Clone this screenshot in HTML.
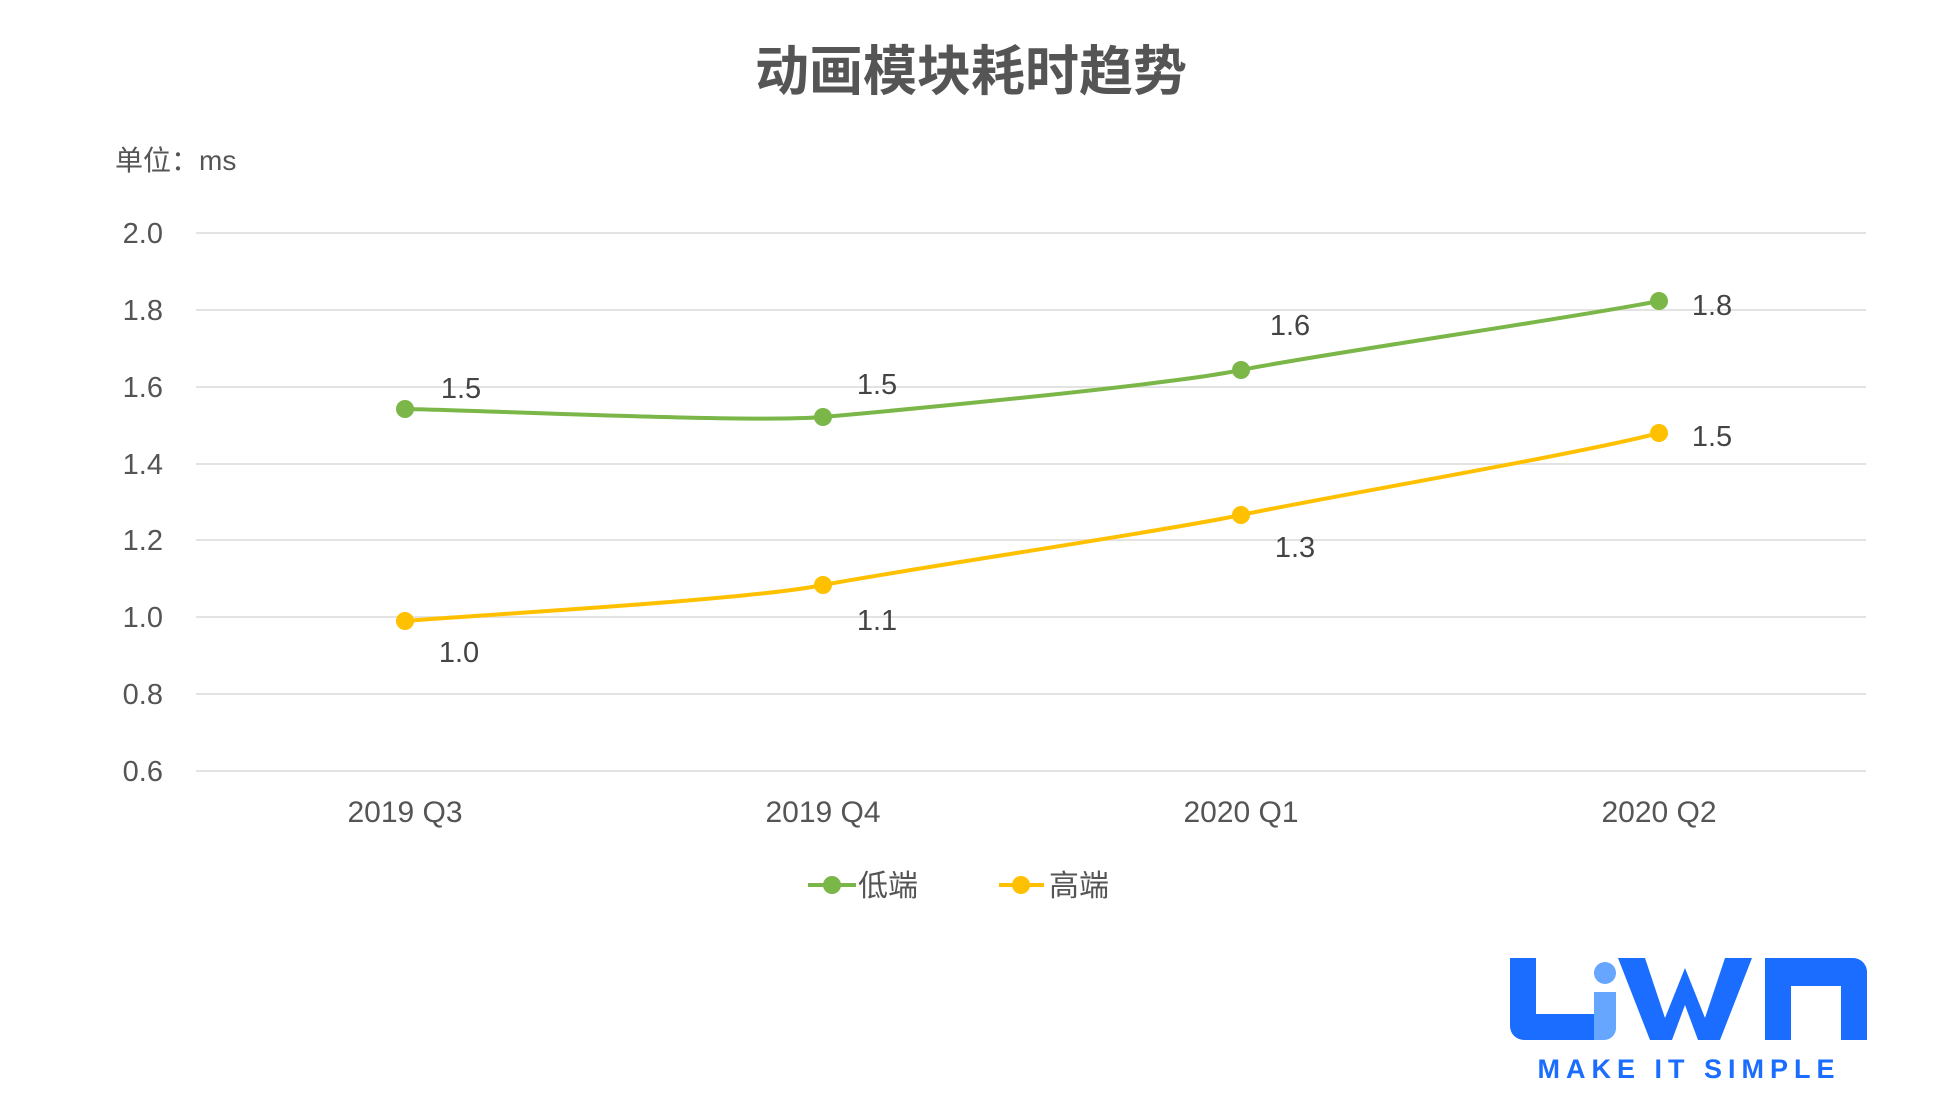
<!DOCTYPE html>
<html><head><meta charset="utf-8"><style>
body{margin:0;background:#fff;width:1944px;height:1098px;overflow:hidden}
text{font-family:"Liberation Sans","Noto Sans CJK SC",sans-serif}
</style></head><body>
<svg width="1944" height="1098" xmlns="http://www.w3.org/2000/svg">
<text x="971" y="90" text-anchor="middle" font-size="54" font-weight="bold" fill="#555" style="font-family:'Noto Sans CJK SC',sans-serif">动画模块耗时趋势</text>
<text x="115" y="170" font-size="28" fill="#555" style="font-family:'Liberation Sans','Noto Sans CJK SC',sans-serif">单位：ms</text>
<g stroke="#e3e3e3" stroke-width="2">
<line x1="196" x2="1866" y1="233" y2="233"/><line x1="196" x2="1866" y1="310" y2="310"/>
<line x1="196" x2="1866" y1="387" y2="387"/><line x1="196" x2="1866" y1="464" y2="464"/>
<line x1="196" x2="1866" y1="540" y2="540"/><line x1="196" x2="1866" y1="617" y2="617"/>
<line x1="196" x2="1866" y1="694" y2="694"/><line x1="196" x2="1866" y1="771" y2="771"/>
</g>
<g font-size="29" fill="#555" text-anchor="end">
<text x="163" y="243">2.0</text><text x="163" y="320">1.8</text><text x="163" y="397">1.6</text>
<text x="163" y="474">1.4</text><text x="163" y="550">1.2</text><text x="163" y="627">1.0</text>
<text x="163" y="704">0.8</text><text x="163" y="781">0.6</text>
</g>
<g font-size="30" fill="#555" text-anchor="middle">
<text x="405" y="822">2019 Q3</text><text x="823" y="822">2019 Q4</text>
<text x="1241" y="822">2020 Q1</text><text x="1659" y="822">2020 Q2</text>
</g>
<path d="M405,409 C475,410 750,423 823,417 C890,411 1170,385 1241,370 C1315,355 1585,316 1659,301" fill="none" stroke="#7ab648" stroke-width="4"/>
<path d="M405,621 C475,615 750,600 823,585 C890,572 1170,530 1241,515 C1315,499 1585,453 1659,433" fill="none" stroke="#ffc000" stroke-width="4"/>
<g fill="#7ab648"><circle cx="405" cy="409" r="9"/><circle cx="823" cy="417" r="9"/><circle cx="1241" cy="370" r="9"/><circle cx="1659" cy="301" r="9"/></g>
<g fill="#ffc000"><circle cx="405" cy="621" r="9"/><circle cx="823" cy="585" r="9"/><circle cx="1241" cy="515" r="9"/><circle cx="1659" cy="433" r="9"/></g>
<g font-size="29" fill="#444" text-anchor="middle">
<text x="461" y="398">1.5</text><text x="877" y="394">1.5</text><text x="1290" y="335">1.6</text><text x="1712" y="315">1.8</text>
<text x="459" y="662">1.0</text><text x="877" y="630">1.1</text><text x="1295" y="557">1.3</text><text x="1712" y="446">1.5</text>
</g>
<line x1="808" x2="856" y1="885" y2="885" stroke="#7ab648" stroke-width="4"/><circle cx="832" cy="885" r="9" fill="#7ab648"/>
<text x="858" y="896" font-size="30" fill="#555">低端</text>
<line x1="999" x2="1044" y1="885" y2="885" stroke="#ffc000" stroke-width="4"/><circle cx="1021" cy="885" r="9" fill="#ffc000"/>
<text x="1049" y="896" font-size="30" fill="#555">高端</text>
<g fill="#1a6dff">
<path d="M1510,958 h26 v56 h58 v26 h-70 a14,14 0 0 1 -14,-14 z"/>
<path d="M1618,958 h27 l20,60 l20,-50 l20,50 l20,-60 h27 l-32,82 h-22 l-13,-35 l-13,35 h-22 z"/>
<path d="M1765,958 h88 a14,14 0 0 1 14,14 v68 h-26 v-54 h-50 v54 h-26 z"/>
</g>
<circle cx="1605" cy="973" r="11" fill="#66a6ff"/>
<path d="M1594,992 h22 v36 a12,12 0 0 1 -12,12 h-10 z" fill="#66a6ff"/>
<text x="1689" y="1078" text-anchor="middle" font-size="27" font-weight="900" fill="#1a6dff" letter-spacing="6">MAKE IT SIMPLE</text>
</svg>
</body></html>
